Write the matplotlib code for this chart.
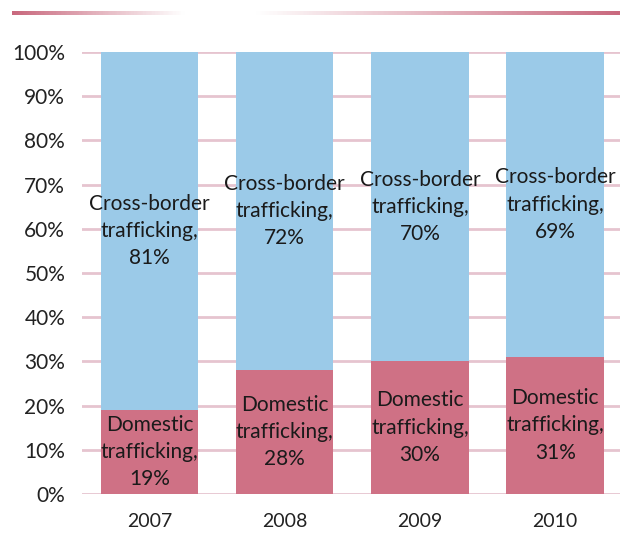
import numpy as np
import matplotlib; matplotlib.use('Agg')
import matplotlib.pyplot as plt
from matplotlib.colors import LinearSegmentedColormap

years = ['2007', '2008', '2009', '2010']
domestic = [19, 28, 30, 31]
cross_border = [81, 72, 70, 69]

PINK = '#CF7185'
BLUE = '#9BCAE8'
GRID = '#E6C4CF'

plt.rcParams.update({'font.family': ['Lato', 'DejaVu Sans'], 'font.size': 15})

fig = plt.figure(figsize=(6.2, 5.38), dpi=100)
ax = fig.add_axes([0.132, 0.0818, 0.868, 0.8215])

x = np.arange(len(years))
w = 0.72
ax.bar(x, domestic, width=w, color=PINK, zorder=2)
ax.bar(x, cross_border, width=w, bottom=domestic, color=BLUE, zorder=2)

for i in range(len(years)):
    ax.text(x[i], domestic[i] / 2, f'Domestic\ntrafficking,\n{domestic[i]}%',
            ha='center', va='center', fontsize=15, color='#1a1a1a',
            linespacing=1.45, zorder=3)
    ax.text(x[i], domestic[i] + cross_border[i] / 2,
            f'Cross-border\ntrafficking,\n{cross_border[i]}%',
            ha='center', va='center', fontsize=15, color='#1a1a1a',
            linespacing=1.45, zorder=3)

ax.set_xlim(-0.5, 3.48)
ax.set_ylim(0, 100)
ax.set_yticks(range(0, 101, 10))
ax.set_yticklabels([f'{v}%' for v in range(0, 101, 10)])
ax.set_xticks(x)
ax.set_xticklabels(years)
ax.tick_params(axis='both', length=0, colors='#222222', labelsize=15)
ax.tick_params(axis='y', pad=12)
ax.tick_params(axis='x', pad=14, labelsize=14)
ax.grid(axis='y', color=GRID, linewidth=2, zorder=1)
for s in ax.spines.values():
    s.set_visible(False)

# decorative gradient rule at the top
top = fig.add_axes([0.0194, 0.973, 0.981, 0.006])
cmap = LinearSegmentedColormap.from_list('rule', [
    (0.0, '#C9697E'), (0.28, '#FFFFFF'), (0.4, '#FFFFFF'), (1.0, '#C9697E')])
top.imshow(np.linspace(0, 1, 400)[None, :], aspect='auto', cmap=cmap)
top.axis('off')

fig.savefig('out.png', dpi=100)
